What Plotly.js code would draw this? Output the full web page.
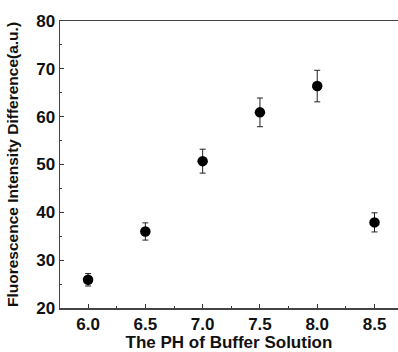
<!DOCTYPE html>
<html><head><meta charset="utf-8">
<script src="https://cdn.plot.ly/plotly-3.0.1.min.js"></script>
<style>html,body{margin:0;padding:0;background:#fff;}#chart{width:398px;height:352px;}</style>
</head><body><div id="chart"></div>
<script>
const phValues = [6.0, 6.5, 7.0, 7.5, 8.0, 8.5];
const intensityDiff = [25.9, 36.0, 50.7, 60.9, 66.4, 37.9];
const errorValues = [1.3, 1.8, 2.5, 3.0, 3.3, 2.0];
const xTickVals = [6.0, 6.5, 7.0, 7.5, 8.0, 8.5];
const xTickText = ['6.0', '6.5', '7.0', '7.5', '8.0', '8.5'];
const yTickVals = [20, 30, 40, 50, 60, 70, 80];

const font = {family: 'Liberation Sans, Arial, sans-serif', color: '#111', weight: 'bold'};
const trace = {
  x: phValues, y: intensityDiff, type: 'scatter', mode: 'markers',
  marker: {color: '#000', size: 10.5},
  error_y: {type: 'data', array: errorValues, visible: true, color: '#222', thickness: 1, width: 3},
  showlegend: false
};
const layout = {
  width: 398, height: 352,
  margin: {l: 60, r: 0, t: 21, b: 44, pad: 0},
  paper_bgcolor: '#fff', plot_bgcolor: '#fff',
  xaxis: {
    range: [5.755, 8.705], tickvals: xTickVals, ticktext: xTickText,
    ticks: 'inside', ticklen: 4, tickwidth: 1, tickcolor: '#333',
    minor: {dtick: 0.25, tick0: 0, ticks: 'inside', ticklen: 2, tickcolor: '#333', showgrid: false},
    showline: true, linecolor: '#444', linewidth: 1.5, mirror: true,
    showgrid: false, zeroline: false, automargin: false,
    tickfont: Object.assign({size: 17}, font),
    title: {text: 'The PH of Buffer Solution', font: Object.assign({size: 17}, font), standoff: 10}
  },
  yaxis: {
    range: [20, 80], tickvals: yTickVals,
    ticks: 'inside', ticklen: 4, tickwidth: 1, tickcolor: '#333',
    minor: {dtick: 5, tick0: 0, ticks: 'inside', ticklen: 2, tickcolor: '#333', showgrid: false},
    showline: true, linecolor: '#444', linewidth: 1.5,
    showgrid: false, zeroline: false, automargin: false,
    tickfont: Object.assign({size: 17}, font),
    title: {text: 'Fluorescence Intensity Difference(a.u.)', font: Object.assign({size: 15.5}, font), standoff: 14}
  }
};
Plotly.newPlot('chart', [trace], layout, {displayModeBar: false, staticPlot: true});
</script></body></html>
